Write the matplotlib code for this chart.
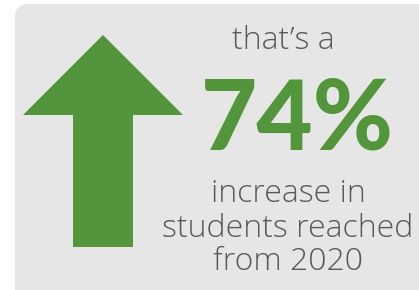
import matplotlib
matplotlib.use("Agg")
import matplotlib.pyplot as plt
from matplotlib.patches import FancyBboxPatch, FancyArrow

# the numbers shown
pct_increase = 74
base_year = 2020
lead_line = "that\u2019s a"
tail_lines = ["increase in", "students reached", f"from {base_year}"]
tail_baselines = [202, 237, 270]

GREEN = "#53953a"
GREY_TXT = "#58595b"
BOX = "#e6e6e6"

W, H = 419, 290
fig = plt.figure(figsize=(W / 100, H / 100), dpi=100)
fig.patch.set_facecolor("white")
ax = fig.add_axes([0, 0, 1, 1])
ax.set_xlim(0, W)
ax.set_ylim(H, 0)
ax.axis("off")

# rounded grey card, runs off the right and bottom edge
ax.add_patch(FancyBboxPatch((15, 4), 430, 300,
                            boxstyle="round,pad=0,rounding_size=13",
                            facecolor=BOX, edgecolor="none"))

# big up arrow
ax.add_patch(FancyArrow(103, 247, 0, -212, width=60, head_width=160,
                        head_length=80, length_includes_head=True,
                        facecolor=GREEN, edgecolor="none"))

body_font = ["Open Sans", "DejaVu Sans"]
ax.text(283, 49, lead_line, ha="center", va="baseline", fontsize=23,
        family=body_font, weight="light", color=GREY_TXT)
ax.text(297, 149, f"{pct_increase}%", ha="center", va="baseline",
        fontsize=70, family="Lato", weight="black", color=GREEN)
for line, yb in zip(tail_lines, tail_baselines):
    ax.text(288, yb, line, ha="center", va="baseline",
            fontsize=23, family=body_font, weight="light", color=GREY_TXT)

fig.savefig("out.png", dpi=100)
